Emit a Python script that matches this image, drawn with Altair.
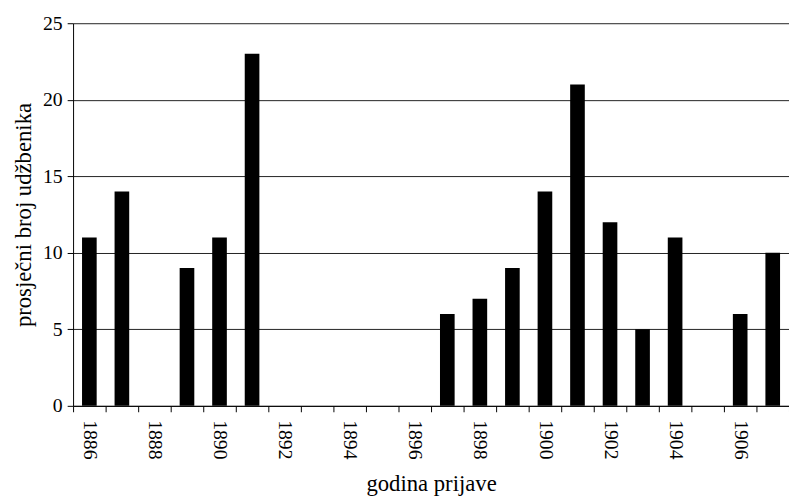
import altair as alt
import pandas as pd

years = [str(y) for y in range(1886, 1908)]
values = [11, 14, 0, 9, 11, 23, 0, 0, 0, 0, 0, 6, 7, 9, 14, 21, 12, 5, 11, 0, 6, 10]

df = pd.DataFrame({"godina": years, "broj": values})

FONT = "Liberation Serif"

chart = alt.Chart(df).mark_bar(color="black", width=alt.RelativeBandSize(0.45)).encode(
    x=alt.X(
        "godina:O",
        sort=years,
        title="godina prijave",
        scale=alt.Scale(paddingInner=0, paddingOuter=0),
        axis=alt.Axis(
            labelAngle=90,
            labelExpr="parseInt(datum.value) % 2 == 0 ? datum.value : ''",
            tickBand="extent",
            tickSize=6,
            labelPadding=8,
            titlePadding=14,
            grid=False,
        ),
    ),
    y=alt.Y(
        "broj:Q",
        title="prosječni broj udžbenika",
        scale=alt.Scale(domain=[0, 25], nice=False),
        axis=alt.Axis(
            values=[0, 5, 10, 15, 20, 25],
            tickSize=6,
            labelPadding=5,
            titlePadding=7,
            grid=True,
        ),
    ),
).properties(
    width=726,
    height=388,
    autosize=alt.AutoSizeParams(type="none"),
    padding={"left": 66, "top": 12, "right": 0, "bottom": 90},
).configure_view(
    stroke=None
).configure_axis(
    labelFont=FONT,
    titleFont=FONT,
    labelFontSize=20,
    titleFontSize=23,
    titleFontWeight="normal",
    labelColor="black",
    titleColor="black",
    domainColor="black",
    tickColor="black",
    gridColor="#222222",
    gridOpacity=1,
    domainWidth=1,
    tickWidth=1,
    gridWidth=1,
)

chart.save("out.html", embed_options={"renderer": "svg", "actions": False})
